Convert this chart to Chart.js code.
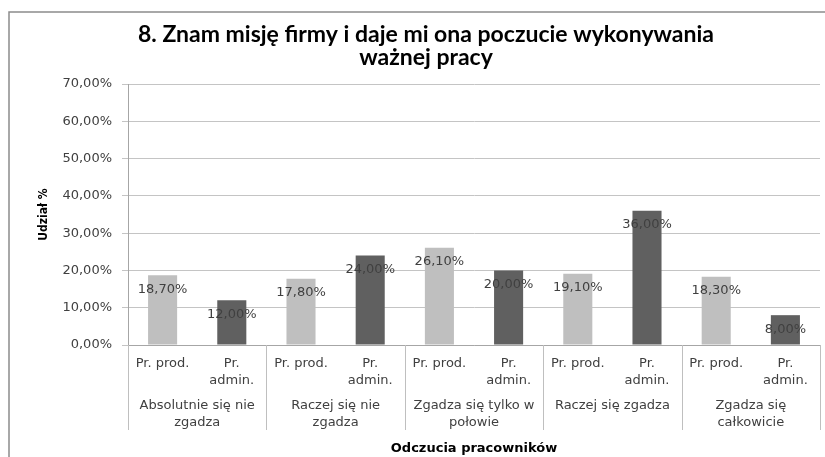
<!DOCTYPE html>
<html>
<head>
<meta charset="utf-8">
<script src="https://cdn.jsdelivr.net/npm/chart.js@4"></script>
<style>
  html, body { margin: 0; padding: 0; background: #fff; }
  #wrap { position: relative; width: 825px; height: 457px; }
</style>
</head>
<body>
<div id="wrap"><canvas id="chart" width="825" height="457"></canvas></div>
<script>
const TITLE       = ['8. Znam misję firmy i daje mi ona poczucie wykonywania', 'ważnej pracy'];
const GROUPS      = [['Absolutnie się nie', 'zgadza'], ['Raczej się nie', 'zgadza'], ['Zgadza się tylko w', 'połowie'], ['Raczej się zgadza'], ['Zgadza się', 'całkowicie']];
const SUBCATS     = [['Pr. prod.'], ['Pr.', 'admin.']];
const PROD_VALUES = [18.7, 17.8, 26.1, 19.1, 18.3];
const ADMIN_VALUES = [12.0, 24.0, 20.0, 36.0, 8.0];
const Y_MAX = 70, Y_STEP = 10;

const COLORS = ['#bfbfbf', '#606060'];
const LABEL_FONT = 'DejaVu Sans';

function fmtPct(v) {
  return v.toFixed(2).replace('.', ',') + '%';
}

// interleave the two series into 10 categories
const labels = [], values = [], colors = [];
GROUPS.forEach((g, i) => {
  labels.push(SUBCATS[0]); values.push(PROD_VALUES[i]);  colors.push(COLORS[0]);
  labels.push(SUBCATS[1]); values.push(ADMIN_VALUES[i]); colors.push(COLORS[1]);
});

const framePlugin = {
  id: 'frame',
  beforeDraw(chart) {
    const ctx = chart.ctx;
    ctx.save();
    ctx.fillStyle = '#fff';
    ctx.fillRect(0, 0, chart.width, chart.height);
    ctx.strokeStyle = '#8c8c8c';
    ctx.lineWidth = 1.5;
    ctx.beginPath();
    ctx.moveTo(9, chart.height);
    ctx.lineTo(9, 12);
    ctx.lineTo(chart.width, 12);
    ctx.stroke();
    ctx.restore();
  }
};

// group dividers below the axis + value labels
const extrasPlugin = {
  id: 'extras',
  afterDraw(chart) {
    const ctx = chart.ctx;
    const xs = chart.scales.x, x2 = chart.scales.x2;
    const area = chart.chartArea;
    const yEnd = x2.top + 41;
    ctx.save();
    ctx.strokeStyle = '#bfbfbf';
    ctx.lineWidth = 1;
    for (let b = 0; b <= GROUPS.length; b++) {
      let x;
      if (b === 0) x = area.left;
      else if (b === GROUPS.length) x = area.right;
      else x = (xs.getPixelForValue(2 * b - 1) + xs.getPixelForValue(2 * b)) / 2;
      x = Math.round(x) + 0.5;
      ctx.beginPath();
      ctx.moveTo(x, area.bottom);
      ctx.lineTo(x, yEnd);
      ctx.stroke();
    }
    const meta = chart.getDatasetMeta(0);
    ctx.font = '13px "' + LABEL_FONT + '"';
    ctx.fillStyle = '#404040';
    ctx.textAlign = 'center';
    ctx.textBaseline = 'middle';
    meta.data.forEach((bar, i) => {
      ctx.fillText(fmtPct(values[i]), bar.x, bar.y + 14);
    });
    ctx.restore();
  }
};

new Chart(document.getElementById('chart'), {
  type: 'bar',
  data: {
    labels,
    datasets: [{
      data: values,
      backgroundColor: colors,
      borderWidth: 0,
      categoryPercentage: 1,
      barPercentage: 0.42
    }]
  },
  options: {
    responsive: false,
    animation: false,
    layout: { padding: { left: 32, right: 5, top: 0, bottom: 0 } },
    plugins: {
      legend: { display: false },
      tooltip: { enabled: false },
      title: {
        display: true,
        text: TITLE,
        color: '#000',
        font: { family: 'Lato', size: 23, weight: 'bold', lineHeight: 1.0 },
        padding: { top: 23, bottom: 15 }
      }
    },
    scales: {
      x: {
        type: 'category',
        offset: true,
        afterFit(scale) { scale.height = 44; },
        grid: { display: false, drawTicks: false },
        border: { display: true, color: '#a6a6a6' },
        ticks: {
          autoSkip: false, maxRotation: 0, minRotation: 0,
          padding: 10,
          color: '#404040',
          font: { family: LABEL_FONT, size: 13, lineHeight: 1.3 }
        }
      },
      x2: {
        type: 'category',
        position: 'bottom',
        labels: GROUPS,
        offset: true,
        afterFit(scale) { scale.height = 68; },
        grid: { display: false, drawTicks: false },
        border: { display: false },
        ticks: {
          autoSkip: false, maxRotation: 0, minRotation: 0,
          padding: 8,
          color: '#404040',
          font: { family: LABEL_FONT, size: 13, lineHeight: 1.3 }
        },
        title: {
          display: true,
          text: 'Odczucia pracowników',
          color: '#000',
          font: { family: LABEL_FONT, size: 13, weight: 'bold', lineHeight: 1.2 },
          padding: { top: 10, bottom: 1 }
        }
      },
      y: {
        min: 0,
        max: Y_MAX,
        afterFit(scale) { scale.width = 96; },
        grid: { color: '#c4c4c4', tickLength: 6 },
        border: { display: true, color: '#a6a6a6' },
        ticks: {
          stepSize: Y_STEP,
          padding: 10,
          color: '#404040',
          font: { family: LABEL_FONT, size: 13 },
          callback: v => fmtPct(v)
        },
        title: {
          display: true,
          text: 'Udział %',
          color: '#000',
          font: { family: 'DejaVu Sans Condensed', size: 12, weight: 'bold', lineHeight: 1.2 },
          padding: { top: 5, bottom: 0 }
        }
      }
    }
  },
  plugins: [framePlugin, extrasPlugin]
});
</script>
</body>
</html>
